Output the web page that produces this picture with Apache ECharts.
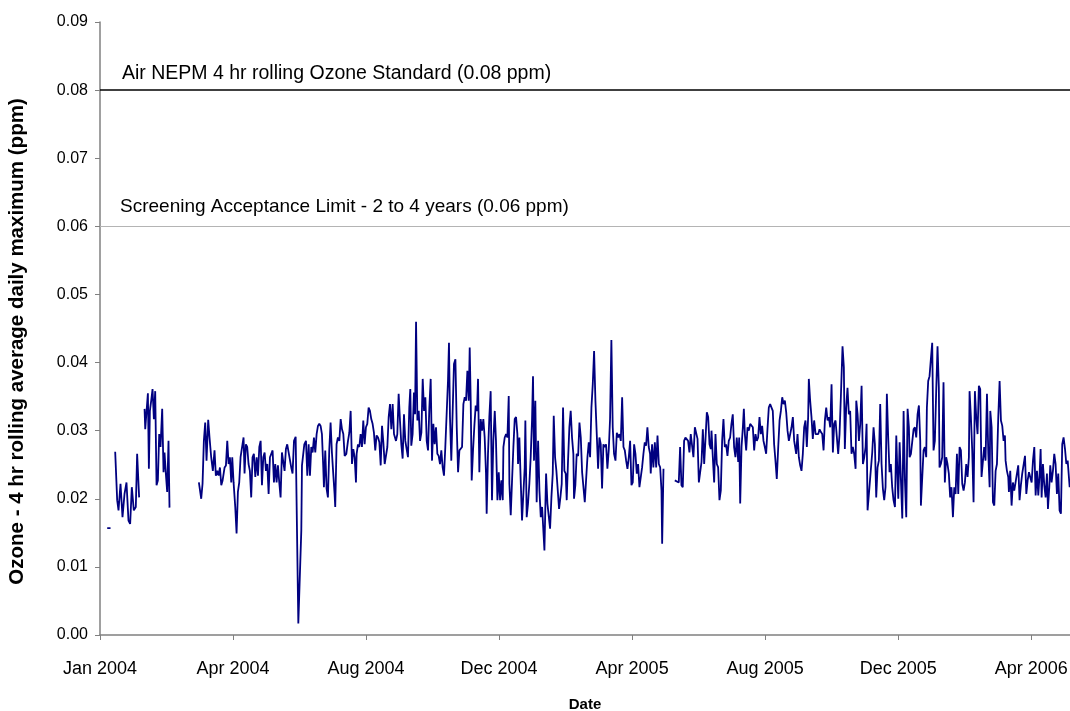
<!DOCTYPE html>
<html><head><meta charset="utf-8">
<script src="https://cdn.jsdelivr.net/npm/echarts@6/dist/echarts.min.js"></script>
<style>html,body{margin:0;padding:0;background:#fff}#chart{width:1070px;height:711px}</style>
</head><body><div id="chart"></div>
<script>
// x tick labels every 120 days starting 1 Jan 2004
const tickLabels = ["Jan 2004","Apr 2004","Aug 2004","Dec 2004","Apr 2005","Aug 2005","Dec 2005","Apr 2006"];
const tickStepDays = 120;
const axisMaxDays = 875;
const standardPpm = 0.08;
const screeningPpm = 0.06;
const standardLabel = "Air NEPM 4 hr rolling Ozone Standard (0.08 ppm)";
const screeningLabel = "Screening Acceptance Limit - 2 to 4 years (0.06 ppm)";
// [days since 1 Jan 2004, ozone ppm]; null = no data
const readings = [
[6.5,0.0157],[9.5,0.0157],[11,null],
[13.7,0.0269],[15.5,0.0198],[16.7,0.0183],[18.5,0.0222],[20.3,0.0173],[22.1,0.0207],[23.9,0.0224],[25.7,0.0168],[27.2,0.0163],[28.7,0.0217],[30.5,0.0183],[32.3,0.0188],[33.5,0.0266],[35.3,0.0202],[37.5,null],
[40.2,0.0332],[40.8,0.0302],[42.0,0.0302],[43.2,0.0355],[44.1,0.0244],[45.0,0.0329],[46.2,0.0344],[47.4,0.0361],[48.6,0.0317],[49.8,0.0358],[51.0,0.0220],[52.2,0.0227],[53.4,0.0295],[54.6,0.0276],[56.1,0.0332],[57.3,0.0239],[58.2,0.0268],[59.4,0.0237],[60.6,0.0210],[61.8,0.0285],[62.7,0.0187],[75,null],
[89.2,0.0224],[91.3,0.0200],[92.5,0.0222],[93.7,0.0285],[94.9,0.0312],[96.1,0.0256],[97.6,0.0316],[98.8,0.0290],[100.3,0.0261],[101.8,0.0241],[103.3,0.0271],[104.5,0.0234],[105.8,0.0241],[107.0,0.0234],[108.2,0.0246],[109.4,0.0220],[110.6,0.0227],[112.4,0.0246],[113.6,0.0249],[114.8,0.0285],[116.0,0.0251],[117.2,0.0261],[118.4,0.0224],[119.3,0.0261],[120.5,0.0224],[122.0,0.0188],[123.2,0.0149],[124.4,0.0210],[125.6,0.0224],[126.8,0.0261],[128.3,0.0261],[129.5,0.0290],[130.4,0.0237],[131.6,0.0280],[132.8,0.0276],[134.0,0.0251],[135.2,0.0241],[136.4,0.0202],[137.6,0.0261],[138.8,0.0266],[140.1,0.0232],[141.3,0.0261],[142.5,0.0234],[143.7,0.0276],[144.9,0.0285],[146.1,0.0220],[147.3,0.0261],[148.5,0.0268],[149.7,0.0241],[150.9,0.0251],[152.1,0.0207],[153.3,0.0261],[154.5,0.0266],[155.7,0.0271],[156.9,0.0224],[158.1,0.0251],[159.3,0.0224],[160.5,0.0249],[161.7,0.0224],[162.9,0.0202],[164.1,0.0268],[165.3,0.0268],[166.5,0.0241],[167.7,0.0273],[168.9,0.0280],[170.7,0.0278],[172.5,0.0246],[173.7,0.0237],[175.0,0.0285],[176.5,0.0291],[178.9,0.0017],[181.6,0.0154],[182.2,0.0249],[183.4,0.0251],[184.3,0.0280],[185.8,0.0285],[187.0,0.0234],[188.2,0.0280],[189.4,0.0234],[190.6,0.0276],[191.8,0.0268],[193.0,0.0290],[194.2,0.0268],[195.4,0.0295],[196.6,0.0307],[197.8,0.0310],[199.0,0.0307],[200.2,0.0295],[201.4,0.0246],[202.0,0.0217],[203.2,0.0271],[204.4,0.0215],[205.6,0.0202],[206.8,0.0271],[208.0,0.0312],[209.2,0.0268],[210.4,0.0237],[211.6,0.0207],[212.2,0.0188],[213.4,0.0280],[214.6,0.0290],[215.9,0.0285],[217.1,0.0317],[218.3,0.0302],[219.5,0.0295],[220.7,0.0263],[222.2,0.0266],[223.7,0.0285],[224.9,0.0297],[226.1,0.0329],[227.3,0.0251],[228.5,0.0273],[229.7,0.0261],[230.9,0.0224],[231.5,0.0266],[232.7,0.0280],[233.9,0.0276],[235.1,0.0295],[236.3,0.0276],[237.5,0.0315],[238.7,0.0280],[239.9,0.0305],[241.1,0.0310],[242.3,0.0334],[243.5,0.0329],[244.7,0.0317],[245.9,0.0310],[247.1,0.0297],[248.3,0.0271],[249.5,0.0293],[250.8,0.0290],[252.0,0.0283],[253.2,0.0249],[254.4,0.0307],[255.6,0.0283],[256.8,0.0251],[258.0,0.0249],[259.2,0.0276],[260.4,0.0320],[261.6,0.0339],[262.8,0.0302],[264.0,0.0339],[265.2,0.0295],[267.0,0.0285],[268.2,0.0295],[269.4,0.0354],[270.6,0.0315],[271.8,0.0280],[273.0,0.0259],[274.2,0.0324],[275.4,0.0285],[276.6,0.0273],[277.8,0.0261],[279.0,0.0334],[279.9,0.0361],[280.8,0.0278],[282.0,0.0295],[283.2,0.0356],[284.2,0.0324],[285.1,0.0460],[286.3,0.0315],[287.5,0.0329],[288.7,0.0285],[289.9,0.0297],[291.1,0.0376],[292.3,0.0329],[293.5,0.0349],[294.7,0.0285],[295.9,0.0271],[297.1,0.0334],[298.3,0.0376],[299.5,0.0256],[300.7,0.0310],[301.9,0.0280],[303.1,0.0305],[304.3,0.0266],[305.5,0.0263],[306.7,0.0251],[307.9,0.0271],[309.1,0.0246],[310.3,0.0234],[311.5,0.0276],[312.7,0.0276],[313.9,0.0373],[314.8,0.0429],[315.7,0.0320],[316.9,0.0256],[318.1,0.0256],[319.3,0.0398],[320.6,0.0405],[321.8,0.0305],[323.0,0.0239],[324.2,0.0271],[325.4,0.0273],[326.6,0.0276],[327.8,0.0339],[329.0,0.0349],[330.2,0.0344],[331.4,0.0388],[332.6,0.0344],[333.5,0.0422],[334.4,0.0344],[335.3,0.0227],[336.5,0.0271],[337.7,0.0307],[338.9,0.0337],[340.1,0.0329],[341.0,0.0376],[342.2,0.0239],[343.4,0.0317],[344.6,0.0300],[345.8,0.0317],[347.0,0.0290],[348.2,0.0237],[348.8,0.0178],[350.0,0.0266],[351.2,0.0320],[352.4,0.0358],[353.6,0.0198],[354.8,0.0285],[356.1,0.0329],[357.2,0.0285],[358.5,0.0198],[359.7,0.0239],[360.9,0.0198],[362.1,0.0227],[363.3,0.0198],[363.9,0.0276],[365.1,0.0290],[366.3,0.0295],[367.5,0.0290],[368.7,0.0351],[369.3,0.0222],[370.5,0.0176],[371.7,0.0227],[372.9,0.0276],[374.1,0.0317],[375.3,0.0320],[376.5,0.0295],[377.1,0.0251],[378.3,0.0290],[379.5,0.0227],[380.7,0.0168],[381.9,0.0168],[383.1,0.0246],[383.7,0.0315],[384.9,0.0173],[386.1,0.0193],[387.3,0.0222],[388.5,0.0261],[389.7,0.0315],[390.6,0.0380],[391.5,0.0256],[392.7,0.0344],[393.9,0.0195],[395.2,0.0285],[396.4,0.0212],[397.6,0.0173],[398.8,0.0188],[400.0,0.0190],[400.9,0.0124],[401.8,0.0193],[402.4,0.0237],[403.6,0.0193],[404.8,0.0193],[406.0,0.0156],[407.2,0.0202],[408.4,0.0237],[409.3,0.0322],[410.5,0.0261],[411.7,0.0241],[412.9,0.0241],[414.1,0.0185],[415.3,0.0202],[416.5,0.0222],[417.7,0.0334],[418.9,0.0241],[420.1,0.0237],[421.0,0.0198],[422.2,0.0256],[423.4,0.0305],[424.6,0.0329],[425.8,0.0290],[427.0,0.0266],[427.6,0.0200],[428.8,0.0220],[430.0,0.0266],[431.3,0.0263],[432.5,0.0312],[433.7,0.0290],[434.9,0.0239],[436.1,0.0237],[437.3,0.0195],[438.5,0.0195],[439.7,0.0261],[440.9,0.0283],[442.1,0.0261],[443.3,0.0334],[444.5,0.0368],[445.7,0.0417],[446.9,0.0344],[448.1,0.0295],[449.3,0.0244],[450.5,0.0290],[451.7,0.0280],[452.9,0.0215],[454.1,0.0280],[455.3,0.0276],[456.5,0.0280],[457.7,0.0244],[458.9,0.0271],[460.1,0.0317],[461.3,0.0433],[462.5,0.0305],[463.7,0.0266],[465.0,0.0256],[466.2,0.0297],[467.4,0.0290],[468.6,0.0295],[469.8,0.0285],[471.0,0.0349],[472.2,0.0276],[473.4,0.0271],[474.6,0.0256],[475.8,0.0244],[477.0,0.0261],[478.2,0.0285],[479.4,0.0220],[480.6,0.0224],[481.8,0.0280],[483.0,0.0266],[484.2,0.0237],[485.4,0.0251],[486.6,0.0217],[487.8,0.0215],[489.0,0.0246],[490.2,0.0266],[491.4,0.0283],[492.6,0.0278],[493.8,0.0305],[495.0,0.0276],[496.2,0.0266],[496.8,0.0237],[498.0,0.0280],[499.2,0.0246],[500.5,0.0283],[501.7,0.0246],[502.9,0.0293],[504.1,0.0251],[505.3,0.0246],[506.5,0.0212],[507.1,0.0134],[508.3,0.0244],[513,null],
[518.5,0.0227],[520.3,0.0227],[522.1,0.0224],[523.3,0.0276],[524.5,0.0220],[525.7,0.0217],[526.9,0.0285],[528.1,0.0290],[529.3,0.0290],[530.5,0.0285],[531.7,0.0268],[532.9,0.0295],[534.1,0.0295],[535.3,0.0261],[536.6,0.0305],[537.8,0.0305],[539.0,0.0288],[540.2,0.0224],[541.4,0.0239],[542.6,0.0254],[543.8,0.0302],[545.0,0.0251],[546.2,0.0288],[547.4,0.0327],[548.6,0.0320],[549.8,0.0280],[551.0,0.0273],[551.6,0.0300],[552.8,0.0261],[554.0,0.0224],[555.2,0.0295],[556.4,0.0251],[557.6,0.0246],[558.8,0.0198],[560.0,0.0212],[561.2,0.0285],[562.4,0.0317],[563.6,0.0276],[564.8,0.0280],[566.0,0.0263],[567.2,0.0285],[568.4,0.0290],[569.6,0.0310],[570.8,0.0324],[572.0,0.0276],[573.2,0.0261],[574.4,0.0290],[575.7,0.0254],[576.6,0.0290],[577.5,0.0193],[578.7,0.0276],[579.9,0.0305],[580.8,0.0332],[581.7,0.0295],[582.9,0.0271],[584.1,0.0305],[585.3,0.0300],[586.5,0.0310],[587.7,0.0310],[588.9,0.0305],[590.1,0.0271],[591.3,0.0295],[592.5,0.0285],[593.7,0.0290],[594.9,0.0320],[596.1,0.0295],[597.3,0.0307],[598.5,0.0285],[599.7,0.0276],[600.9,0.0266],[602.1,0.0302],[603.3,0.0334],[604.5,0.0339],[605.7,0.0339],[606.9,0.0329],[608.1,0.0280],[609.3,0.0256],[610.5,0.0229],[611.8,0.0276],[613.0,0.0315],[614.2,0.0329],[615.4,0.0349],[616.6,0.0339],[617.8,0.0344],[619.0,0.0327],[620.2,0.0300],[621.4,0.0285],[622.6,0.0285],[623.8,0.0305],[625.0,0.0320],[626.2,0.0285],[628.0,0.0266],[629.2,0.0295],[630.4,0.0261],[631.6,0.0249],[632.8,0.0241],[634.0,0.0266],[635.2,0.0305],[636.4,0.0315],[637.6,0.0276],[638.8,0.0320],[639.4,0.0376],[640.6,0.0344],[641.8,0.0320],[643.0,0.0288],[644.2,0.0315],[645.5,0.0295],[646.7,0.0293],[647.9,0.0295],[649.1,0.0302],[650.3,0.0298],[651.5,0.0295],[652.7,0.0271],[653.9,0.0315],[655.1,0.0334],[656.3,0.0315],[657.5,0.0320],[658.7,0.0305],[659.9,0.0368],[661.1,0.0268],[662.3,0.0310],[663.5,0.0315],[664.7,0.0290],[665.9,0.0266],[667.1,0.0295],[668.3,0.0349],[669.8,0.0424],[671.0,0.0393],[671.9,0.0273],[673.1,0.0334],[674.3,0.0363],[675.5,0.0324],[676.7,0.0329],[677.9,0.0266],[679.1,0.0276],[680.3,0.0266],[681.6,0.0244],[682.2,0.0344],[683.4,0.0324],[684.6,0.0285],[685.8,0.0310],[687.0,0.0366],[688.2,0.0251],[689.4,0.0261],[690.6,0.0276],[691.5,0.0310],[692.4,0.0183],
[696.6,0.0268],[697.8,0.0305],[699.0,0.0280],[700.2,0.0202],[701.4,0.0246],[702.6,0.0256],[703.8,0.0339],[705.0,0.0251],[706.2,0.0215],[707.4,0.0198],[708.6,0.0217],[709.8,0.0354],[711.0,0.0290],[712.2,0.0239],[713.4,0.0251],[714.6,0.0217],[715.8,0.0198],[717.1,0.0188],[718.3,0.0293],[719.5,0.0227],[720.1,0.0200],[721.3,0.0283],[722.5,0.0285],[723.7,0.0171],[724.9,0.0329],[726.1,0.0227],[727.3,0.0173],[728.5,0.0332],[729.7,0.0305],[730.3,0.0261],[731.5,0.0266],[732.7,0.0266],[733.9,0.0302],[735.1,0.0305],[736.3,0.0290],[737.5,0.0324],[738.7,0.0337],[739.9,0.0285],[740.5,0.0190],[741.7,0.0188],[742.9,0.0271],[744.1,0.0276],[745.3,0.0261],[745.9,0.0334],[747.1,0.0373],[748.3,0.0380],[749.5,0.0405],[750.7,0.0429],[751.9,0.0271],[753.1,0.0285],[754.3,0.0358],[755.5,0.0424],[756.7,0.0363],[757.3,0.0246],[758.5,0.0251],[759.7,0.0261],[760.9,0.0371],[762.1,0.0224],[763.3,0.0261],[764.5,0.0251],[765.7,0.0237],[766.9,0.0202],[768.1,0.0217],[769.4,0.0173],[770.6,0.0217],[771.8,0.0207],[773.0,0.0266],[774.2,0.0207],[775.4,0.0276],[776.6,0.0271],[777.8,0.0222],[779.0,0.0212],[780.2,0.0224],[781.4,0.0251],[782.6,0.0232],[783.8,0.0261],[784.4,0.0358],[785.6,0.0320],[786.8,0.0271],[788.0,0.0195],[789.2,0.0358],[790.4,0.0320],[791.6,0.0295],[792.8,0.0366],[794.0,0.0361],[795.2,0.0232],[796.4,0.0232],[797.6,0.0276],[798.8,0.0256],[800.1,0.0354],[801.3,0.0266],[802.5,0.0217],[803.1,0.0329],[804.3,0.0305],[805.5,0.0195],[806.7,0.0190],[807.9,0.0241],[809.1,0.0251],[810.3,0.0320],[811.5,0.0373],[812.7,0.0315],[813.9,0.0307],[815.1,0.0285],[816.3,0.0293],[816.9,0.0256],[818.1,0.0241],[819.3,0.0232],[819.9,0.0210],[821.1,0.0241],[822.3,0.0190],[823.5,0.0224],[824.7,0.0212],[825.9,0.0224],[827.1,0.0224],[828.3,0.0249],[829.5,0.0198],[830.7,0.0220],[831.9,0.0237],[833.1,0.0239],[834.4,0.0263],[835.6,0.0207],[836.8,0.0227],[838.0,0.0239],[839.2,0.0237],[840.4,0.0224],[841.6,0.0256],[842.8,0.0276],[844.0,0.0205],[845.2,0.0241],[846.4,0.0205],[847.6,0.0237],[848.5,0.0273],[849.4,0.0202],[850.6,0.0251],[851.8,0.0220],[853.0,0.0202],[854.2,0.0237],[855.1,0.0185],[856.3,0.0217],[857.2,0.0249],[858.4,0.0224],[859.6,0.0241],[860.8,0.0266],[862.0,0.0251],[863.2,0.0207],[864.4,0.0237],[865.6,0.0183],[866.8,0.0178],[868.0,0.0280],[869.2,0.0290],[870.5,0.0273],[871.7,0.0251],[872.9,0.0256],[874.1,0.0254],[874.7,0.0217]
];

const FONT = '"Liberation Sans", Arial, sans-serif';
const chart = echarts.init(document.getElementById('chart'), null, {renderer: 'canvas'});
chart.setOption({
  animation: false,
  backgroundColor: '#ffffff',
  grid: {left: 100, right: 0, top: 22, bottom: 76, containLabel: false, outerBoundsMode: 'none'},
  xAxis: {
    type: 'value', min: 0, max: axisMaxDays, interval: tickStepDays,
    name: 'Date', nameLocation: 'middle', nameGap: 62,
    nameTextStyle: {fontFamily: FONT, fontSize: 15, fontWeight: 'bold', color: '#000'},
    axisLine: {show: true, lineStyle: {color: '#808080', width: 1.5}},
    axisTick: {show: true, inside: false, length: 5, lineStyle: {color: '#808080', width: 1}},
    splitLine: {show: false},
    axisLabel: {
      showMaxLabel: false, margin: 25, color: '#000', fontFamily: FONT, fontSize: 18,
      formatter: v => (v % tickStepDays === 0 && tickLabels[v / tickStepDays]) ? tickLabels[v / tickStepDays] : ''
    }
  },
  yAxis: {
    type: 'value', min: 0, max: 0.09, interval: 0.01,
    name: 'Ozone - 4 hr rolling average daily maximum (ppm)', nameLocation: 'middle', nameGap: 72,
    nameTextStyle: {fontFamily: FONT, fontSize: 20.5, fontWeight: 'bold', color: '#000', padding: [0, 26, 0, 0]},
    axisLine: {show: true, lineStyle: {color: '#808080', width: 1.5}},
    axisTick: {show: true, inside: false, length: 5, lineStyle: {color: '#808080', width: 1}},
    splitLine: {show: false},
    axisLabel: {margin: 12, color: '#000', fontFamily: FONT, fontSize: 16, formatter: v => v.toFixed(2)}
  },
  series: [{
    type: 'line',
    data: readings,
    showSymbol: false,
    connectNulls: false,
    lineStyle: {color: '#000080', width: 1.8},
    itemStyle: {color: '#000080'},
    z: 3,
    markLine: {
      silent: true, symbol: 'none', animation: false,
      data: [
        {yAxis: standardPpm, lineStyle: {color: '#000000', width: 1.5, type: 'solid'},
         label: {show: true, formatter: standardLabel, position: 'insideStartTop', distance: [22, 6], color: '#000', fontFamily: FONT, fontSize: 19.5}},
        {yAxis: screeningPpm, lineStyle: {color: '#b4b4b4', width: 1.2, type: 'solid'},
         label: {show: true, formatter: screeningLabel, position: 'insideStartTop', distance: [20, 10], color: '#000', fontFamily: FONT, fontSize: 19}}
      ]
    }
  }]
});
</script>
</body></html>
